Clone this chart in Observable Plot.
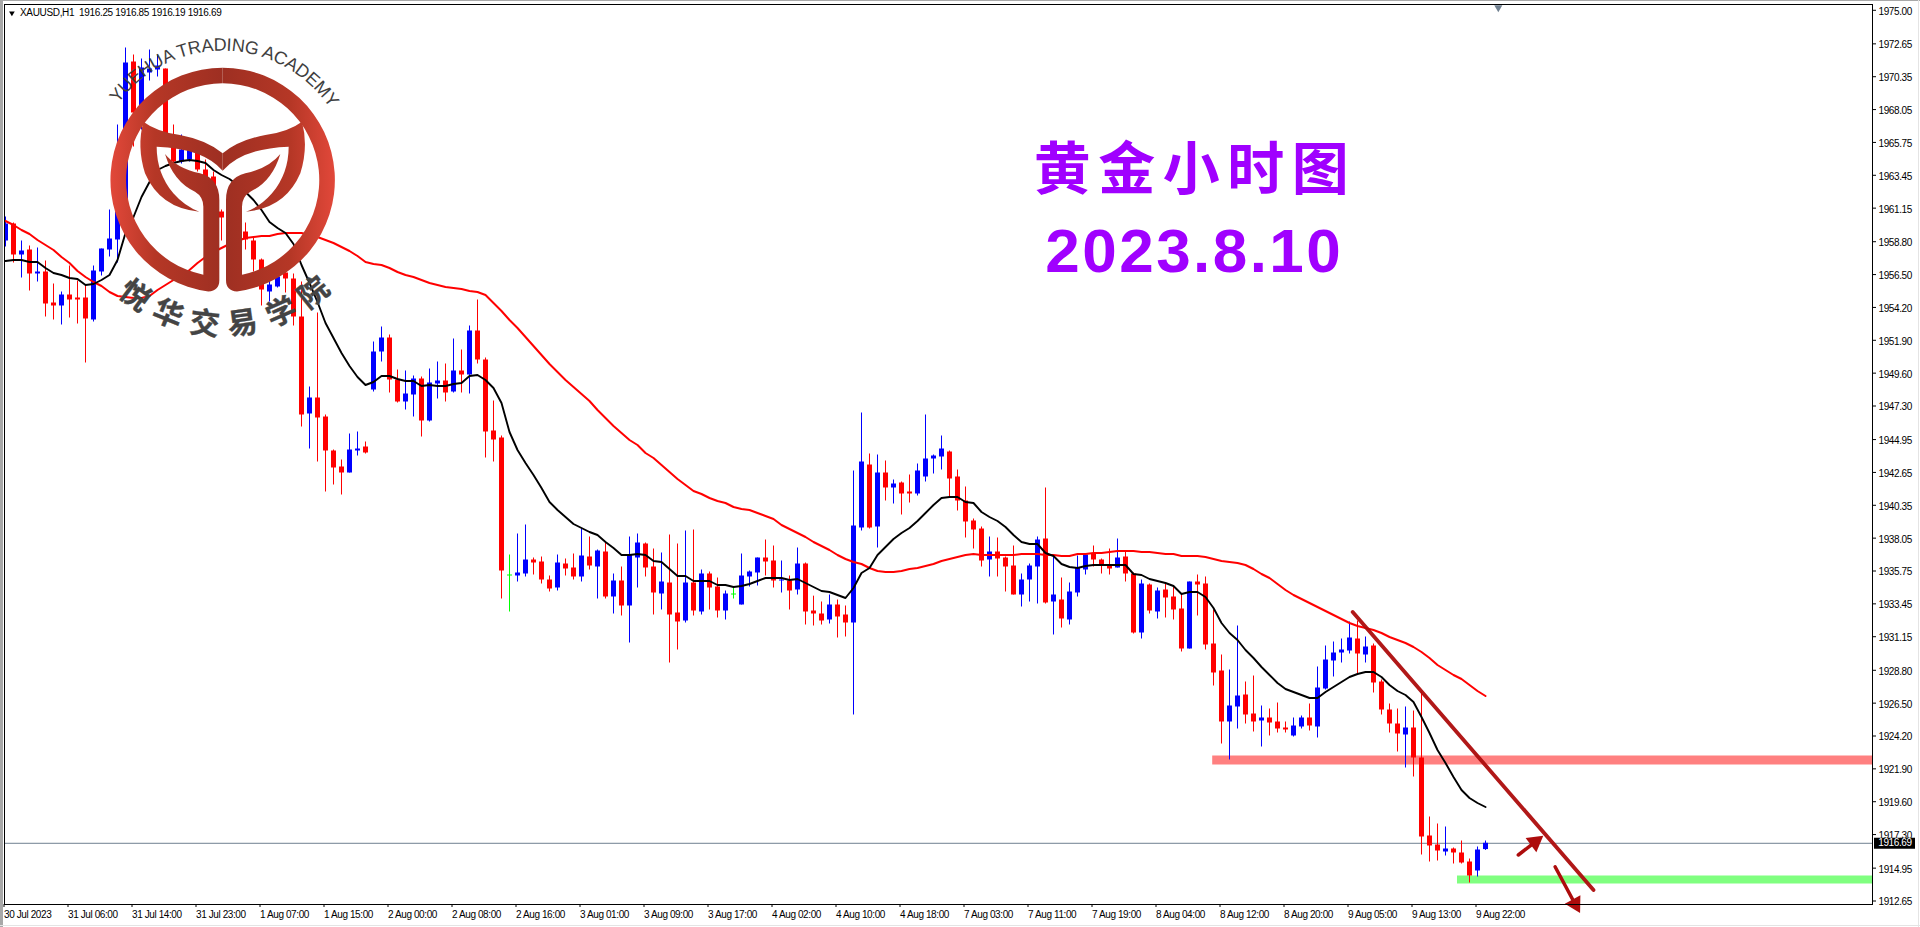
<!DOCTYPE html>
<html><head><meta charset="utf-8">
<script src="https://cdn.jsdelivr.net/npm/d3@7"></script>
<script src="https://cdn.jsdelivr.net/npm/@observablehq/plot@0.6"></script>
<style>
html,body{margin:0;padding:0;background:#fff;overflow:hidden}
#wrap{position:relative;width:1920px;height:927px}
#wrap>svg{display:block}
.edge{position:absolute}
</style></head><body><div id="wrap"></div>
<script>
const opens=[1958.85,1960.04,1957.87,1958.22,1956.54,1956.68,1954.51,1954.30,1955.07,1954.86,
1954.86,1953.32,1956.68,1958.22,1958.92,1960.88,1971.38,1968.30,1970.61,1970.82,
1970.89,1965.57,1964.38,1964.52,1965.01,1963.82,1963.33,1960.88,1960.04,1959.97,
1959.48,1958.85,1957.52,1955.28,1955.63,1956.61,1956.19,1953.53,1946.74,1947.86,
1946.53,1944.15,1943.03,1942.61,1944.15,1944.43,1948.42,1951.08,1952.06,1949.12,
1947.58,1948.07,1949.19,1946.25,1948.84,1949.05,1948.28,1949.75,1949.47,1952.55,
1950.52,1945.55,1945.06,1935.47,1935.40,1935.54,1936.52,1936.38,1935.12,1934.56,
1936.24,1935.96,1935.33,1936.73,1936.03,1937.08,1933.93,1935.05,1933.30,1936.66,
1937.64,1936.03,1934.14,1934.91,1932.81,1932.25,1934.91,1932.88,1935.54,1934.63,
1932.95,1934.14,1933.37,1935.33,1935.61,1936.66,1936.45,1935.05,1935.05,1934.42,
1936.24,1932.95,1932.74,1932.32,1933.37,1932.67,1932.11,1938.76,1943.17,1938.83,
1942.61,1941.56,1941.91,1941.28,1941.14,1942.33,1943.59,1943.73,1944.08,1942.33,
1940.65,1939.25,1938.69,1936.52,1937.08,1936.66,1936.10,1934.07,1935.12,1936.03,
1937.99,1933.58,1933.72,1932.32,1934.21,1935.82,1936.94,1936.52,1936.10,1935.96,
1936.73,1935.54,1931.41,1934.77,1932.88,1934.42,1933.93,1933.09,1930.29,1934.98,
1934.84,1930.64,1928.75,1925.18,1926.23,1927.07,1925.74,1925.25,1925.46,1925.18,
1924.76,1924.20,1924.83,1925.46,1924.83,1927.49,1929.45,1930.01,1930.15,1930.99,
1929.87,1930.50,1927.98,1926.02,1925.04,1924.27,1924.76,1922.66,1917.20,1916.57,
1916.08,1916.29,1916.01,1915.38,1914.75,1916.25];
const highs=[1960.53,1960.11,1958.85,1958.50,1958.36,1957.45,1955.84,1955.28,1957.10,1956.05,
1955.70,1957.10,1958.29,1961.02,1966.97,1972.36,1971.87,1971.59,1972.22,1971.87,
1970.89,1966.97,1966.27,1965.92,1965.22,1964.52,1963.68,1961.02,1961.37,1960.46,
1960.11,1959.13,1957.59,1956.12,1956.82,1957.38,1956.54,1955.98,1948.63,1953.81,
1946.67,1944.22,1943.52,1945.34,1945.48,1944.78,1951.78,1952.83,1952.27,1949.82,
1949.75,1949.40,1949.33,1949.89,1950.38,1950.24,1951.99,1951.22,1952.90,1954.72,
1950.66,1947.65,1945.20,1936.87,1938.34,1938.97,1936.66,1936.73,1935.40,1936.87,
1936.59,1936.94,1938.69,1938.13,1937.22,1937.71,1935.54,1936.03,1938.13,1938.34,
1937.71,1937.29,1937.01,1938.27,1937.64,1938.55,1938.62,1935.82,1935.68,1935.26,
1934.35,1934.56,1936.94,1935.75,1936.66,1937.92,1937.50,1936.45,1935.40,1937.36,
1936.31,1933.99,1933.58,1934.07,1933.72,1933.30,1942.75,1946.81,1943.94,1943.87,
1943.45,1942.12,1941.98,1942.47,1943.24,1946.67,1943.87,1945.20,1944.15,1942.82,
1941.63,1939.39,1938.83,1938.13,1938.06,1936.73,1937.50,1935.54,1936.24,1938.13,
1941.56,1936.87,1935.26,1934.91,1936.80,1936.87,1937.50,1936.59,1937.29,1937.99,
1937.08,1935.61,1935.12,1934.84,1934.56,1934.84,1934.63,1934.07,1934.98,1935.47,
1935.33,1933.02,1929.87,1928.82,1931.90,1927.98,1928.40,1926.30,1926.09,1926.51,
1925.18,1925.46,1925.60,1926.44,1929.03,1930.50,1930.78,1930.99,1932.18,1932.25,
1931.13,1930.64,1928.12,1926.44,1926.09,1926.23,1925.95,1927.28,1918.53,1918.04,
1917.83,1916.36,1916.85,1915.59,1916.43,1916.85];
const lows=[1958.43,1957.31,1956.26,1955.35,1955.98,1953.53,1953.32,1952.97,1953.46,1953.04,
1950.31,1953.18,1956.40,1957.73,1957.31,1960.67,1965.43,1966.62,1970.05,1970.33,
1965.43,1964.17,1964.24,1964.38,1963.68,1962.70,1961.72,1958.85,1959.62,1959.20,
1958.22,1956.68,1954.30,1954.58,1955.56,1955.21,1952.90,1945.83,1944.29,1943.38,
1941.28,1941.77,1941.07,1942.61,1943.80,1943.94,1948.28,1950.38,1948.21,1947.51,
1947.02,1946.53,1945.13,1946.18,1947.79,1947.58,1948.21,1948.21,1948.14,1950.24,
1943.66,1943.38,1933.79,1932.88,1934.98,1935.33,1935.47,1934.84,1934.28,1934.35,
1935.40,1935.12,1934.98,1935.82,1933.79,1933.79,1932.74,1932.60,1930.71,1934.56,
1935.33,1932.67,1933.02,1929.31,1930.22,1932.11,1932.60,1932.67,1933.02,1932.46,
1932.32,1933.79,1933.37,1934.63,1934.70,1935.40,1934.56,1934.21,1933.02,1934.07,
1931.97,1931.90,1931.97,1932.04,1931.06,1931.13,1925.67,1938.55,1938.69,1937.36,
1940.65,1940.44,1939.67,1940.51,1941.00,1941.98,1942.54,1942.82,1940.93,1939.95,
1938.06,1937.29,1936.03,1935.33,1935.33,1934.28,1934.07,1933.23,1933.58,1933.44,
1933.44,1931.27,1931.76,1931.97,1933.93,1935.47,1936.03,1935.54,1935.47,1935.96,
1934.98,1931.34,1930.99,1932.74,1932.39,1932.46,1932.32,1930.08,1930.29,1932.60,
1930.22,1927.70,1923.64,1922.52,1924.69,1925.04,1924.48,1923.43,1924.20,1924.41,
1924.41,1924.13,1924.69,1924.55,1924.06,1927.42,1928.33,1929.31,1929.94,1928.54,
1929.31,1927.21,1925.67,1924.41,1923.08,1921.96,1921.33,1915.87,1915.38,1915.45,
1915.80,1915.24,1915.24,1913.91,1914.33,1916.19];
const closes=[1960.04,1957.87,1958.15,1956.54,1956.68,1954.44,1954.30,1955.07,1954.72,1954.72,
1953.39,1956.75,1958.29,1958.99,1960.88,1971.31,1967.81,1970.96,1970.89,1971.10,
1965.92,1964.38,1965.22,1965.22,1963.82,1962.98,1962.56,1960.46,1961.02,1959.48,
1958.92,1957.52,1955.42,1955.77,1956.33,1956.19,1953.53,1946.67,1947.86,1946.46,
1944.15,1942.96,1942.61,1944.22,1944.29,1944.01,1951.08,1952.06,1949.12,1947.58,
1948.14,1949.19,1946.25,1948.91,1949.05,1948.21,1949.75,1949.47,1952.55,1950.52,
1945.48,1944.92,1935.75,1935.47,1935.61,1936.52,1936.31,1935.12,1934.49,1936.31,
1935.89,1935.33,1936.80,1936.10,1937.15,1933.93,1935.05,1933.30,1936.87,1937.71,
1935.96,1934.21,1934.98,1932.67,1932.18,1934.91,1932.95,1935.54,1934.56,1932.95,
1934.14,1934.14,1935.40,1935.68,1936.66,1936.38,1935.05,1935.12,1934.35,1936.24,
1932.88,1932.74,1932.25,1933.37,1932.53,1932.11,1938.90,1943.38,1938.76,1942.61,
1941.56,1941.84,1941.14,1941.14,1942.75,1943.59,1943.80,1944.29,1942.19,1940.65,
1939.18,1938.62,1936.45,1937.08,1936.59,1936.03,1934.07,1935.12,1936.10,1937.92,
1933.51,1934.07,1932.39,1934.28,1935.96,1936.87,1936.52,1936.17,1935.89,1936.66,
1935.54,1931.41,1934.84,1932.95,1934.35,1933.86,1933.02,1930.29,1934.98,1934.77,
1930.57,1928.61,1925.18,1926.30,1927.00,1925.67,1925.18,1925.46,1925.11,1924.69,
1924.62,1924.90,1925.46,1924.90,1927.56,1929.52,1930.01,1930.22,1931.06,1929.94,
1930.43,1927.91,1926.02,1925.04,1924.34,1924.76,1922.66,1917.13,1916.50,1916.15,
1916.29,1916.01,1915.31,1914.40,1916.22,1916.69];
const maBlack=[1957.45,1957.52,1957.52,1957.38,1957.38,1956.96,1956.61,1956.47,1956.26,1956.19,
1955.77,1955.84,1956.12,1956.47,1957.52,1959.41,1960.53,1961.93,1962.98,1963.82,
1964.10,1964.31,1964.45,1964.52,1964.45,1964.31,1963.82,1963.47,1963.19,1962.77,
1962.28,1961.72,1961.02,1960.18,1959.76,1959.41,1958.64,1957.17,1955.91,1954.58,
1953.11,1952.06,1951.01,1950.10,1949.33,1948.77,1948.98,1949.40,1949.40,1949.19,
1949.05,1949.05,1948.70,1948.77,1948.70,1948.70,1948.84,1948.91,1949.40,1949.47,
1949.12,1948.56,1947.51,1945.48,1944.22,1943.31,1942.47,1941.56,1940.58,1940.02,
1939.53,1939.04,1938.76,1938.48,1938.27,1937.78,1937.36,1936.87,1936.87,1936.94,
1936.87,1936.45,1936.38,1935.89,1935.40,1935.40,1935.05,1935.05,1935.05,1934.77,
1934.77,1934.63,1934.70,1934.84,1935.05,1935.26,1935.26,1935.26,1935.12,1935.19,
1934.91,1934.63,1934.35,1934.28,1934.07,1933.86,1934.56,1935.61,1935.96,1936.87,
1937.43,1937.99,1938.41,1938.76,1939.25,1939.81,1940.37,1940.86,1940.93,1940.93,
1940.58,1940.51,1939.88,1939.53,1939.25,1938.83,1938.27,1937.78,1937.64,1937.64,
1937.01,1936.80,1936.24,1936.03,1935.96,1936.10,1936.17,1936.17,1936.17,1936.17,
1936.17,1935.54,1935.47,1935.19,1935.05,1934.91,1934.70,1934.14,1934.28,1934.28,
1933.93,1933.16,1932.11,1931.41,1930.92,1930.22,1929.66,1929.03,1928.47,1927.91,
1927.49,1927.28,1927.07,1926.86,1926.86,1927.28,1927.63,1927.98,1928.33,1928.54,
1928.68,1928.68,1928.33,1927.77,1927.35,1927.07,1926.58,1925.53,1924.41,1923.22,
1922.31,1921.33,1920.42,1919.86,1919.51,1919.23];
const maRed=[1960.25,1959.97,1959.62,1959.34,1958.92,1958.57,1958.22,1957.73,1957.31,1956.75,
1956.33,1955.98,1955.70,1955.28,1955.00,1954.93,1954.86,1954.86,1955.00,1955.42,
1955.77,1956.12,1956.47,1956.82,1957.31,1957.73,1958.08,1958.36,1958.64,1958.85,
1959.06,1959.13,1959.20,1959.20,1959.34,1959.41,1959.41,1959.41,1959.27,1959.13,
1958.92,1958.71,1958.43,1958.15,1957.80,1957.38,1957.24,1957.17,1956.96,1956.68,
1956.47,1956.33,1956.12,1955.91,1955.77,1955.63,1955.56,1955.49,1955.35,1955.28,
1955.07,1954.51,1953.95,1953.32,1952.76,1952.13,1951.50,1950.87,1950.24,1949.68,
1949.12,1948.63,1948.14,1947.65,1947.02,1946.46,1945.90,1945.41,1944.92,1944.57,
1944.01,1943.66,1943.17,1942.68,1942.19,1941.77,1941.35,1941.14,1940.86,1940.65,
1940.51,1940.23,1940.09,1940.02,1939.81,1939.60,1939.39,1938.97,1938.69,1938.41,
1938.13,1937.78,1937.50,1937.22,1936.87,1936.59,1936.38,1936.24,1935.96,1935.75,
1935.68,1935.68,1935.75,1935.89,1935.96,1936.10,1936.24,1936.45,1936.59,1936.73,
1936.87,1936.94,1936.87,1936.87,1936.87,1936.87,1936.87,1936.94,1936.94,1936.94,
1936.87,1936.87,1936.80,1936.80,1936.94,1936.94,1937.01,1937.01,1937.08,1937.15,
1937.15,1937.15,1937.08,1937.08,1937.01,1936.94,1936.94,1936.80,1936.80,1936.80,
1936.73,1936.59,1936.45,1936.38,1936.31,1936.17,1935.89,1935.54,1935.26,1934.84,
1934.42,1934.07,1933.79,1933.51,1933.23,1932.95,1932.67,1932.39,1932.11,1931.90,
1931.76,1931.62,1931.41,1931.13,1930.92,1930.71,1930.43,1930.08,1929.66,1929.17,
1928.82,1928.47,1928.19,1927.77,1927.35,1927.00];
const xTickLabels=["30 Jul 2023","31 Jul 06:00","31 Jul 14:00","31 Jul 23:00","1 Aug 07:00","1 Aug 15:00","2 Aug 00:00","2 Aug 08:00","2 Aug 16:00","3 Aug 01:00","3 Aug 09:00","3 Aug 17:00","4 Aug 02:00","4 Aug 10:00","4 Aug 18:00","7 Aug 03:00","7 Aug 11:00","7 Aug 19:00","8 Aug 04:00","8 Aug 12:00","8 Aug 20:00","9 Aug 05:00","9 Aug 13:00","9 Aug 22:00"];
const yTicks=[1975.00,1972.65,1970.35,1968.05,1965.75,1963.45,1961.15,1958.80,1956.50,1954.20,1951.90,1949.60,1947.30,1944.95,1942.65,1940.35,1938.05,1935.75,1933.45,1931.15,1928.80,1926.50,1924.20,1921.90,1919.60,1917.30,1914.95,1912.65];
const lastPrice=1916.69;
const headerText="XAUUSD,H1  1916.25 1916.85 1916.19 1916.69";
const titleText="黄金小时图", dateText="2023.8.10";
const resistanceBand={from:150.9,top:1922.80,bottom:1922.17};
const supportBand={from:181.5,top:1914.40,bottom:1913.84};
const trendLine=[{i:168.4,p:1932.88},{i:198.5,p:1913.42}];
const arrowUp=[{i:189.1,p:1915.87},{i:191.2,p:1916.78}];
const arrowDown=[{i:193.7,p:1915.05},{i:196.2,p:1912.44}];
const arrowHeads=[{i:191.2,p:1916.78,a:53},{i:196.2,p:1912.44,a:151}];

const candles=opens.map((o,i)=>({i,o,h:highs[i],l:lows[i],c:closes[i]}));
const up=candles.filter(d=>d.c>d.o), down=candles.filter(d=>d.c<d.o), flat=candles.filter(d=>d.c===d.o);
const series=(a)=>a.map((p,i)=>({i,p}));
const xMax=233.375, xMin=-0.125;
const red="#ff0000", blue="#0000ff", lime="#00ff00", trend="#ad0c0c";

const wicks=(data,color)=>Plot.ruleX(data,{x:"i",y1:"l",y2:"h",stroke:color,strokeWidth:1,clip:true});
const bodies=(data,color)=>Plot.ruleX(data,{x:"i",y1:"o",y2:"c",stroke:color,strokeWidth:5,clip:true});

const chart=Plot.plot({
  width:1920,height:927,marginLeft:4,marginRight:48,marginTop:4,marginBottom:23,
  style:{background:"white",fontFamily:"'Liberation Sans',sans-serif",fontSize:"10px",letterSpacing:"-0.4px",color:"black",overflow:"visible"},
  x:{type:"linear",domain:[xMin,xMax],axis:null},
  y:{type:"linear",domain:[1912.405,1975.405],axis:null},
  marks:[
    Plot.rect([resistanceBand],{x1:"from",x2:()=>xMax+0.05,y1:"bottom",y2:"top",fill:"#ff8080"}),
    Plot.rect([supportBand],{x1:"from",x2:()=>xMax,y1:"bottom",y2:"top",fill:"#80ff80"}),
    Plot.ruleY([lastPrice],{stroke:"#708090",strokeWidth:1}),
    wicks(up,blue),wicks(down,red),wicks(flat,lime),
    bodies(up,blue),bodies(down,red),
    Plot.ruleY(flat,{y:"c",x1:d=>d.i-0.25,x2:d=>d.i+0.375,stroke:lime}),
    Plot.line(series(maRed),{x:"i",y:"p",stroke:red,strokeWidth:2,curve:"linear"}),
    Plot.line(series(maBlack),{x:"i",y:"p",stroke:"black",strokeWidth:1.9,curve:"linear"}),
    Plot.line(trendLine,{x:"i",y:"p",stroke:trend,strokeWidth:3.8,strokeOpacity:0.95}),
    Plot.line(arrowUp,{x:"i",y:"p",stroke:trend,strokeWidth:3.5}),
    Plot.line(arrowDown,{x:"i",y:"p",stroke:trend,strokeWidth:3.5}),
    Plot.dot(arrowHeads,{x:"i",y:"p",symbol:"triangle",r:6.6,rotate:"a",fill:trend}),
    Plot.frame({stroke:"black",strokeWidth:1}),
    Plot.dot([186.6],{x:d=>d,frameAnchor:"top",dy:3,symbol:"triangle",r:3,rotate:180,fill:"#708090"}),
    Plot.axisY(yTicks,{anchor:"right",tickSize:3,tickPadding:3,label:null,tickFormat:d=>d.toFixed(2),fontSize:10,stroke:"black"}),
    Plot.axisX(xTickLabels.map((_,k)=>k*8),{anchor:"bottom",tickSize:3,tickPadding:3,label:null,textAnchor:"start",dx:-1.5,tickFormat:d=>xTickLabels[d/8],fontSize:10,stroke:"black"}),
    Plot.ruleY([lastPrice],{x1:()=>233.625,x2:()=>238.75,stroke:"black",strokeWidth:11}),
    Plot.text([lastPrice],{y:d=>d,x:()=>234.1,text:d=>d.toFixed(2),fill:"white",textAnchor:"start",fontSize:10}),
    Plot.dot([0],{frameAnchor:"top-left",dx:7.4,dy:8.6,symbol:"triangle",r:2.1,rotate:180,fill:"black"}),
    Plot.text([headerText],{frameAnchor:"top-left",lineAnchor:"middle",dx:15.5,dy:8.5,text:d=>d,textAnchor:"start",fontSize:10,fill:"black"}),
    Plot.text([titleText],{x:()=>148.7,y:()=>1963.78,text:d=>d,fontSize:57,fontWeight:700,fontFamily:"'Noto Sans CJK SC'",fill:"#a000ff"}),
    Plot.text([dateText],{x:()=>148.6,y:()=>1958.05,text:d=>d,fontSize:62,fontWeight:700,fontFamily:"'Liberation Sans'",fill:"#a000ff"})
  ]
});
const yLabelText=new Set(yTicks.map(d=>d.toFixed(2)));
chart.querySelectorAll("text").forEach(t=>{
  const s=t.textContent;
  if(s===titleText) t.style.letterSpacing="7.5px";
  if(s===dateText) t.style.letterSpacing="2.45px";
  if(s===headerText){t.setAttribute("xml:space","preserve");t.style.whiteSpace="pre";t.style.letterSpacing="-0.34px";}
  if(yLabelText.has(s)) t.setAttribute("transform",(t.getAttribute("transform")||"")+" translate(0,1.2)");
});
const wrap=document.getElementById("wrap");
wrap.appendChild(chart);

/* window edges */
[["left:0;top:0;width:2.7px;height:927px;background:#a8a8a8"],["left:0;top:0;width:1920px;height:1.4px;background:#a8a8a8"],
 ["right:1px;top:0;width:1px;height:927px;background:#e4e4e4"],["left:0;bottom:1px;width:1920px;height:1px;background:#e4e4e4"]]
 .forEach(([s])=>{const e=document.createElement("div");e.className="edge";e.style.cssText=s;wrap.appendChild(e);});

/* watermark logo */
const NS="http://www.w3.org/2000/svg";
const logoFill="url(#ringGrad)";
const half="M668 203A337 337 0 0 0 625 874.2Q658 873 658 840L658 600Q658 535 600 520Q530 505 495 462Q520 545 585 575Q610 590 610 620L610 824.1A290 290 0 0 1 668 250Z";
const lobe="M430 365Q470 395 540 405Q620 420 668 460L668 512Q610 445 470 440Q470 520 520 580Q555 620 598 635Q480 625 435 520Q410 440 430 365Z";
const logo=d3.create("svg").attr("xmlns",NS).attr("viewBox","0 0 1440 1020").attr("width",480).attr("height",340)
  .style("position","absolute").style("left","0").style("top","0").style("overflow","visible");
const defs=logo.append("defs");
const g=defs.append("linearGradient").attr("id","ringGrad").attr("gradientUnits","userSpaceOnUse").attr("x1",330).attr("x2",1005).attr("y1",0).attr("y2",0);
[[0,"#e2483a"],[0.2,"#b53726"],[0.5,"#9e2f22"],[0.8,"#b53726"],[1,"#e2483a"]].forEach(([o,c])=>g.append("stop").attr("offset",o).attr("stop-color",c));
defs.append("path").attr("id","arcTop").attr("d","M279 540A388 388 0 0 1 1055 540");
const left=logo.append("g").attr("fill",logoFill);
left.append("path").attr("d",half); left.append("path").attr("d",lobe);
const right=logo.append("g").attr("fill",logoFill).attr("transform","translate(1336,0) scale(-1,1)");
right.append("path").attr("d",half); right.append("path").attr("d",lobe);
logo.append("text").attr("font-family","'Liberation Sans'").attr("font-size",54).attr("fill","#3f3f3f")
  .append("textPath").attr("href","#arcTop").attr("startOffset","50.7%").attr("text-anchor","middle").attr("textLength",745).attr("lengthAdjust","spacing").text("YUEHUA TRADING ACADEMY");
const seal=["悦","华","交","易","学","院"], sealAngles=[-37,-22,-7,8,24,39];
seal.forEach((ch,k)=>{
  const a=sealAngles[k]*Math.PI/180, x=667+426*Math.sin(a), y=540+426*Math.cos(a);
  logo.append("text").attr("x",x).attr("y",y).attr("transform",`rotate(${-sealAngles[k]} ${x} ${y})`)
    .attr("text-anchor","middle").attr("dominant-baseline","central").attr("font-family","'Noto Sans CJK SC'").attr("font-weight",700).attr("font-size",90).attr("fill","#444").attr("stroke","#444").attr("stroke-width",1).text(ch);
});
wrap.appendChild(logo.node());
</script></body></html>
